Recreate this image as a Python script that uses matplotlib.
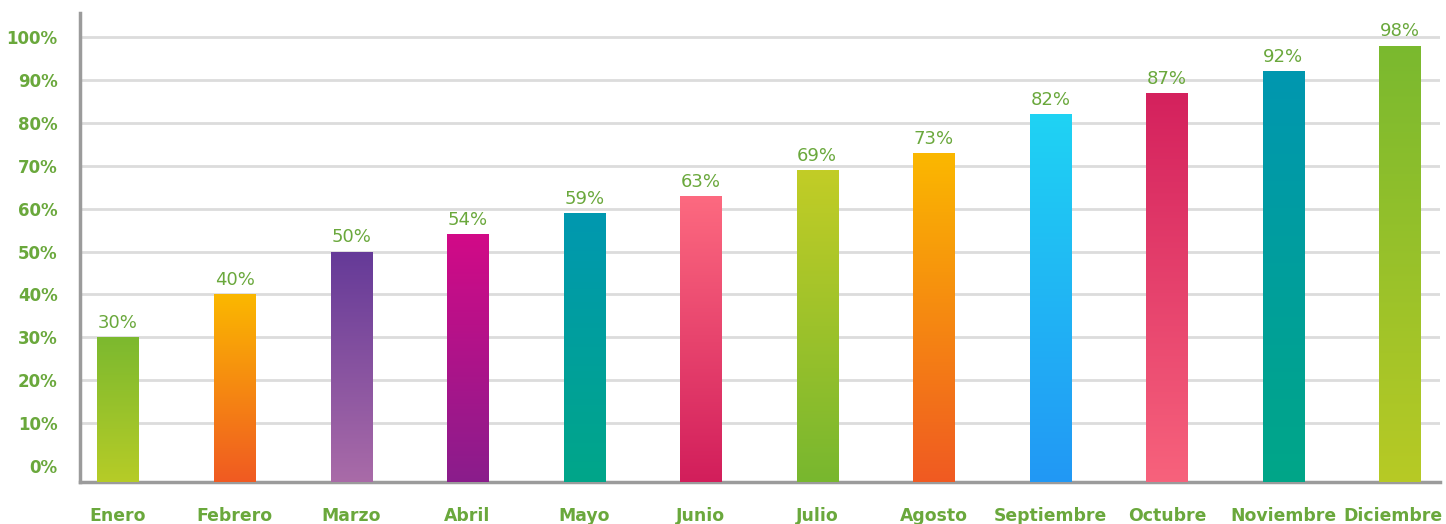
import numpy as np
import matplotlib.pyplot as plt
import matplotlib.transforms as mtransforms
from matplotlib.colors import LinearSegmentedColormap

meses = ['Enero', 'Febrero', 'Marzo', 'Abril', 'Mayo', 'Junio', 'Julio',
         'Agosto', 'Septiembre', 'Octubre', 'Noviembre', 'Diciembre']
valores = [30, 40, 50, 54, 59, 63, 69, 73, 82, 87, 92, 98]
# color arriba / color abajo de cada barra
color_arriba = ['#7cb92f', '#fbb800', '#653a98', '#d20a87', '#0098b0', '#fd6a80',
                '#c2cd26', '#fbb800', '#1fd3f3', '#d4215d', '#0097b0', '#7ab92f']
color_abajo = ['#b6cc27', '#f05a22', '#a96ba8', '#8a1d8c', '#00a689', '#d21e5b',
               '#78b72f', '#f05a22', '#2298f5', '#f7627c', '#00a688', '#b7ca25']
ticks = [0, 10, 20, 30, 40, 50, 60, 70, 80, 90, 100]

verde = '#6aa83c'
ymin, ymax = -3.7, 105.6

fig = plt.figure(figsize=(14.46, 5.24), dpi=100)
ax = fig.add_axes([0.0553, 0.0802, 0.9405, 0.895])

x = np.arange(len(meses))
barras = ax.bar(x, np.array(valores) - ymin, bottom=ymin, width=0.352,
                color='none', zorder=3)

# degradado vertical dentro de cada barra
for b, c1, c2 in zip(barras, color_arriba, color_abajo):
    cmap = LinearSegmentedColormap.from_list('g', [c2, c1])
    x0, y0 = b.get_x(), b.get_y()
    grad = np.linspace(0, 1, 256).reshape(-1, 1)
    im = ax.imshow(grad, cmap=cmap, origin='lower', aspect='auto',
                   extent=(x0, x0 + b.get_width(), y0, y0 + b.get_height()),
                   zorder=3)
    im.set_clip_path(b)

for xi, v in zip(x, valores):
    ax.text(xi, v + 1.2, f'{v}%', ha='center', va='bottom', fontsize=13,
            color=verde, zorder=4)

for t in ticks[1:]:
    ax.axhline(t, color='#dcdcdc', lw=2, zorder=1)

ax.set_xlim(-0.326, 11.343)
ax.set_ylim(ymin, ymax)
ax.set_yticks(ticks)
ax.set_yticklabels([f'{t}%' for t in ticks], fontsize=12, fontweight='bold', color=verde)
ax.set_xticks(x)
ax.set_xticklabels(meses, fontsize=12.4, fontweight='bold', color=verde)
ax.tick_params(axis='both', length=0)
ax.tick_params(axis='x', pad=18)
ax.tick_params(axis='y', pad=16)

# el último mes se corre un poco a la izquierda para que quepa
ultimo = ax.get_xticklabels()[-1]
ultimo.set_transform(ultimo.get_transform() +
                     mtransforms.ScaledTranslation(-0.07, 0, fig.dpi_scale_trans))

for s in ['top', 'right']:
    ax.spines[s].set_visible(False)
for s in ['left', 'bottom']:
    ax.spines[s].set_color('#9b9b9b')
    ax.spines[s].set_linewidth(2.5)

fig.savefig('out.png', dpi=100)
